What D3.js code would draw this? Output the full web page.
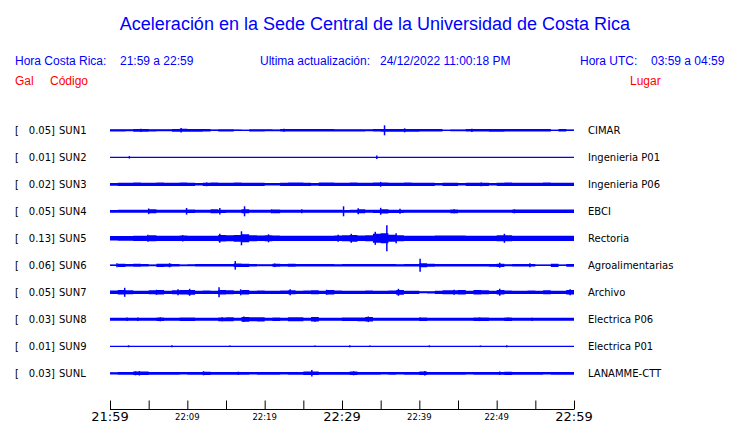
<!DOCTYPE html>
<html><head><meta charset="utf-8">
<script src="https://cdn.jsdelivr.net/npm/d3@7"></script>
<style>body{margin:0;background:#fff}svg{display:block}</style>
</head><body>
<script>
// ---------- data ----------
const stations = ["SUN1","SUN2","SUN3","SUN4","SUN5","SUN6","SUN7","SUN8","SUN9","SUNL"];
const places = ["CIMAR","Ingenieria P01","Ingenieria P06","EBCI","Rectoria","Agroalimentarias","Archivo","Electrica P06","Electrica P01","LANAMME-CTT"];
const maxGal = [0.05,0.01,0.02,0.05,0.13,0.06,0.05,0.03,0.01,0.03];
const tickLabels = ["21:59","22:09","22:19","22:29","22:39","22:49","22:59"];
const majorLabels = ["21:59","22:29","22:59"];

// per-minute envelope (half amplitude, gal), minutes 0..59
const envSUN1 = [0.011,0.011,0.010,0.014,0.014,0.011,0.010,0.010,0.014,0.015,0.014,0.014,0.013,0.007,0.011,0.011,0.007,0.006,0.011,0.011,0.010,0.009,0.013,0.013,0.013,0.013,0.013,0.013,0.013,0.011,0.011,0.011,0.011,0.010,0.013,0.014,0.014,0.014,0.014,0.014,0.013,0.013,0.013,0.006,0.009,0.009,0.012,0.012,0.013,0.014,0.014,0.013,0.013,0.013,0.013,0.013,0.012,0.006,0.012,0.008];
const envSUN2 = [0.003,0.003,0.003,0.003,0.003,0.003,0.003,0.003,0.003,0.003,0.003,0.003,0.003,0.003,0.003,0.003,0.003,0.003,0.003,0.003,0.003,0.003,0.003,0.003,0.003,0.003,0.003,0.003,0.003,0.003,0.003,0.003,0.003,0.003,0.003,0.003,0.003,0.003,0.003,0.003,0.003,0.003,0.003,0.003,0.003,0.003,0.003,0.003,0.003,0.003,0.003,0.003,0.003,0.003,0.003,0.003,0.003,0.003,0.003,0.003];
const envSUN3 = [0.014,0.016,0.016,0.017,0.016,0.016,0.017,0.016,0.016,0.017,0.016,0.012,0.016,0.017,0.016,0.016,0.017,0.016,0.016,0.016,0.012,0.013,0.016,0.017,0.017,0.016,0.014,0.017,0.017,0.016,0.016,0.017,0.016,0.016,0.017,0.017,0.016,0.016,0.017,0.016,0.016,0.016,0.013,0.016,0.016,0.013,0.016,0.016,0.016,0.013,0.016,0.017,0.016,0.016,0.016,0.016,0.017,0.016,0.016,0.016];
const envSUN4 = [0.014,0.015,0.015,0.015,0.015,0.020,0.015,0.015,0.015,0.015,0.018,0.015,0.015,0.020,0.016,0.015,0.015,0.020,0.015,0.015,0.015,0.019,0.015,0.015,0.015,0.015,0.015,0.015,0.015,0.015,0.014,0.015,0.020,0.015,0.016,0.021,0.016,0.016,0.015,0.015,0.015,0.015,0.015,0.015,0.019,0.015,0.015,0.015,0.015,0.015,0.015,0.015,0.017,0.017,0.017,0.017,0.017,0.017,0.017,0.017];
const envSUN5 = [0.022,0.024,0.024,0.026,0.026,0.030,0.026,0.026,0.026,0.028,0.026,0.026,0.026,0.026,0.032,0.030,0.034,0.040,0.030,0.028,0.030,0.028,0.026,0.026,0.026,0.026,0.026,0.026,0.026,0.028,0.030,0.034,0.028,0.030,0.045,0.050,0.035,0.030,0.026,0.026,0.026,0.026,0.028,0.028,0.028,0.028,0.026,0.026,0.026,0.026,0.030,0.030,0.026,0.026,0.026,0.026,0.026,0.026,0.026,0.026];
const envSUN6 = [0.008,0.016,0.012,0.015,0.012,0.009,0.016,0.015,0.012,0.009,0.010,0.012,0.012,0.012,0.012,0.012,0.018,0.016,0.012,0.010,0.010,0.015,0.012,0.015,0.012,0.012,0.012,0.012,0.012,0.011,0.012,0.012,0.012,0.012,0.012,0.012,0.012,0.011,0.012,0.012,0.020,0.015,0.012,0.012,0.012,0.012,0.012,0.012,0.012,0.014,0.016,0.010,0.012,0.012,0.012,0.007,0.008,0.016,0.008,0.014];
const envSUN7 = [0.018,0.022,0.020,0.016,0.016,0.020,0.022,0.016,0.020,0.022,0.024,0.016,0.018,0.016,0.022,0.020,0.016,0.022,0.016,0.018,0.016,0.016,0.018,0.020,0.016,0.018,0.020,0.016,0.022,0.018,0.016,0.016,0.016,0.018,0.016,0.016,0.018,0.024,0.016,0.016,0.010,0.011,0.016,0.020,0.020,0.022,0.016,0.022,0.020,0.016,0.022,0.018,0.016,0.016,0.018,0.016,0.020,0.016,0.016,0.022];
const envSUN8 = [0.015,0.015,0.015,0.015,0.015,0.015,0.018,0.015,0.015,0.018,0.017,0.015,0.015,0.015,0.019,0.020,0.015,0.024,0.020,0.021,0.015,0.017,0.015,0.020,0.020,0.015,0.022,0.015,0.015,0.015,0.018,0.018,0.019,0.022,0.015,0.015,0.015,0.015,0.015,0.015,0.018,0.015,0.015,0.015,0.015,0.015,0.015,0.018,0.018,0.015,0.015,0.017,0.015,0.015,0.015,0.015,0.015,0.015,0.015,0.015];
const envSUN9 = [0.003,0.003,0.003,0.003,0.003,0.003,0.003,0.003,0.003,0.003,0.003,0.003,0.003,0.003,0.003,0.003,0.003,0.003,0.003,0.003,0.003,0.003,0.003,0.003,0.003,0.003,0.003,0.003,0.003,0.003,0.003,0.003,0.003,0.003,0.003,0.003,0.003,0.003,0.003,0.003,0.003,0.003,0.003,0.003,0.003,0.003,0.003,0.003,0.003,0.003,0.003,0.003,0.003,0.003,0.003,0.003,0.003,0.003,0.003,0.003];
const envSUNL = [0.011,0.014,0.014,0.017,0.017,0.014,0.014,0.014,0.014,0.012,0.014,0.014,0.016,0.014,0.014,0.014,0.014,0.014,0.012,0.014,0.014,0.014,0.012,0.014,0.014,0.017,0.018,0.014,0.014,0.014,0.014,0.017,0.014,0.014,0.014,0.012,0.014,0.012,0.014,0.014,0.017,0.014,0.014,0.014,0.014,0.014,0.012,0.014,0.014,0.014,0.014,0.016,0.014,0.014,0.014,0.014,0.013,0.014,0.014,0.014];

// spikes: [minute, half amplitude gal]
const pkSUN1 = [[9.2,0.023],[35.5,0.05],[38.1,0.02],[4.0,0.016],[22.5,0.015],[46.8,0.016]];
const pkSUN2 = [[2.5,0.012],[34.5,0.017]];
const pkSUN3 = [[35.0,0.024],[12.5,0.019],[48.0,0.019]];
const pkSUN4 = [[5.0,0.028],[9.9,0.033],[14.2,0.033],[17.4,0.05],[30.2,0.05],[32.1,0.03],[35.0,0.035],[37.5,0.025],[52.3,0.02],[20.9,0.02],[24.8,0.02],[44.5,0.02]];
const pkSUN5 = [[4.9,0.035],[14.2,0.045],[17.0,0.07],[20.5,0.04],[29.5,0.035],[31.2,0.045],[34.3,0.065],[35.8,0.13],[37.0,0.05],[51.0,0.045],[9.4,0.032]];
const pkSUN6 = [[0.9,0.02],[16.2,0.043],[40.1,0.065],[50.4,0.025],[54.3,0.02],[7.7,0.02],[21.3,0.018]];
const pkSUN7 = [[1.9,0.045],[6.0,0.025],[8.8,0.03],[10.3,0.035],[14.1,0.05],[16.9,0.03],[23.3,0.03],[37.3,0.035],[50.4,0.035],[59.5,0.03],[28.0,0.025],[44.5,0.025]];
const pkSUN8 = [[17.3,0.027],[33.4,0.028],[26.5,0.024],[6.5,0.02],[2.2,0.017],[3.6,0.017],[14.5,0.02],[40.1,0.018],[47.8,0.018],[51.5,0.017],[54.6,0.016]];
const pkSUN9 = [[2.4,0.01],[8.0,0.01],[15.5,0.008],[26.5,0.008],[31.0,0.01],[33.6,0.008],[41.3,0.009],[47.9,0.008],[51.3,0.01]];
const pkSUNL = [[26.1,0.033],[3.3,0.02],[3.8,0.022],[12.1,0.02],[31.5,0.02],[40.7,0.022],[50.4,0.018],[16.6,0.016]];

const envs = [envSUN1,envSUN2,envSUN3,envSUN4,envSUN5,envSUN6,envSUN7,envSUN8,envSUN9,envSUNL];
const peaks = [pkSUN1,pkSUN2,pkSUN3,pkSUN4,pkSUN5,pkSUN6,pkSUN7,pkSUN8,pkSUN9,pkSUNL];

// ---------- drawing ----------
const W = 740, H = 423;
const BLUE = "#0000ff", RED = "#ff0000";
const sans = "'Liberation Sans', Arial, Helvetica, sans-serif";
const dvs = "'DejaVu Sans', sans-serif";

const svg = d3.select("body").append("svg").attr("width", W).attr("height", H);

const x = d3.scaleLinear().domain([0, 60]).range([110, 574]);
const row = d3.scalePoint().domain(stations).range([130.3, 373.3]);
const amp = d3.scaleLinear().domain([0, 0.1]).range([0, 10]);

// title
svg.append("text").attr("x", 375).attr("y", 30).attr("text-anchor", "middle")
  .attr("font-family", sans).attr("font-size", 18).attr("fill", BLUE)
  .text("Aceleración en la Sede Central de la Universidad de Costa Rica");

// header
const hdr = [
  ["Hora Costa Rica:", 15], ["21:59 a 22:59", 120],
  ["Ultima actualización:", 260], ["24/12/2022 11:00:18 PM", 380],
  ["Hora UTC:", 580], ["03:59 a 04:59", 651]
];
svg.selectAll("text.hdr").data(hdr).join("text").attr("class", "hdr")
  .attr("x", d => d[1]).attr("y", 65).attr("font-family", sans).attr("font-size", 12)
  .attr("fill", BLUE).text(d => d[0]);
const red = [["Gal", 15], ["Código", 50], ["Lugar", 630]];
svg.selectAll("text.red").data(red).join("text").attr("class", "red")
  .attr("x", d => d[1]).attr("y", 85).attr("font-family", sans).attr("font-size", 12)
  .attr("fill", RED).text(d => d[0]);

// rows
stations.forEach((s, i) => {
  const cy = row(s);
  const g = svg.append("g");
  const pts = envs[i].map((v, m) => ({t: m, v})).concat([{t: 60, v: envs[i][59]}]);
  const area = d3.area().x(d => x(d.t)).y0(d => cy + amp(d.v)).y1(d => cy - amp(d.v))
    .curve(d3.curveStepAfter);
  g.append("path").attr("d", area(pts)).attr("fill", BLUE);
  g.append("line").attr("x1", x(0)).attr("x2", x(60)).attr("y1", cy).attr("y2", cy)
    .attr("stroke", BLUE).attr("stroke-width", 1.3);
  g.selectAll("line.pk").data(peaks[i]).join("line").attr("class", "pk")
    .attr("x1", d => x(d[0])).attr("x2", d => x(d[0]))
    .attr("y1", d => cy - amp(d[1])).attr("y2", d => cy + amp(d[1]))
    .attr("stroke", BLUE).attr("stroke-width", 1.5);

  g.append("text").attr("x", 15).attr("y", cy + 3.7).attr("font-family", dvs).attr("font-size", 10)
    .attr("fill", "#000").text("[");
  g.append("text").attr("x", 55).attr("y", cy + 3.7).attr("text-anchor", "end").attr("font-family", dvs)
    .attr("font-size", 10).attr("fill", "#000").text(maxGal[i].toFixed(2) + "]");
  g.append("text").attr("x", 59).attr("y", cy + 3.7).attr("font-family", dvs).attr("font-size", 10)
    .attr("fill", "#000").text(s);
  g.append("text").attr("x", 588).attr("y", cy + 3.7).attr("font-family", dvs).attr("font-size", 10)
    .attr("fill", "#000").text(places[i]);
});

// time axis
const axisY = 409.5;
const axis = d3.axisTop(x).tickValues(d3.range(0, 61, 5)).tickSize(9).tickFormat("");
const ag = svg.append("g").attr("transform", `translate(0,${axisY})`).call(axis);
ag.select(".domain").attr("d", `M${x(0)},0H${x(60)}`).attr("stroke", "#000");
ag.selectAll(".tick line").attr("stroke", "#000");

svg.selectAll("text.tl").data(tickLabels).join("text").attr("class", "tl")
  .attr("x", (d, i) => x(i * 10)).attr("text-anchor", "middle")
  .attr("y", d => majorLabels.includes(d) ? 421 : 419.5)
  .attr("font-family", dvs)
  .attr("font-size", d => majorLabels.includes(d) ? 13 : 8.5)
  .attr("fill", "#000").text(d => d);
</script>
</body></html>
